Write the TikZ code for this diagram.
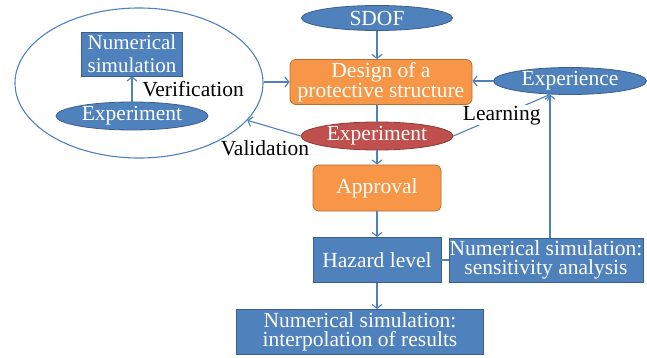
\documentclass[tikz,border=0pt]{standalone}
\usepackage{fontspec}
\setmainfont{Liberation Serif}
\usetikzlibrary{shapes.geometric,arrows.meta}
\definecolor{ofblue}{HTML}{4F81BD}
\definecolor{ofblueb}{HTML}{3A5F8B}
\definecolor{oforange}{HTML}{F79646}
\definecolor{oforangeb}{HTML}{B9702F}
\definecolor{ofred}{HTML}{C0504D}
\definecolor{ofredb}{HTML}{8C3A38}
\begin{document}
\begin{tikzpicture}[x=1pt,y=-1pt,
  every node/.style={font=\fontsize{21.5}{19.5}\selectfont, inner sep=0pt, align=center},
  bluebox/.style={rectangle, fill=ofblue, draw=ofblueb, line width=0.8pt, text=white},
  orangebox/.style={rectangle, rounded corners=6pt, fill=oforange, draw=oforangeb, line width=0.8pt, text=white},
  blueell/.style={ellipse, fill=ofblue, draw=ofblueb, line width=0.8pt, text=white},
  redell/.style={ellipse, fill=ofred, draw=ofredb, line width=0.8pt, text=white},
  conn/.style={draw=ofblue, line width=1.1pt},
  arr/.style={conn, -{Straight Barb[length=4pt,width=10pt]}},
  lbl/.style={text=black}]
\useasboundingbox (0,0) rectangle (647,358);
% big group ellipse
\node[ellipse, draw=ofblue, line width=1.1pt, minimum width=248pt, minimum height=150pt] (group) at (139,83) {};
\node[bluebox, minimum width=101pt, minimum height=44pt, font=\fontsize{21}{22.5}\selectfont] (numsim) at (132,54) {Numerical\\simulation};
\node[blueell, minimum width=152pt, minimum height=28pt] (exp1) at (132,116) {Experiment};
\node[lbl] (verif) at (193,89) {Verification};
% main column
\node[blueell, minimum width=151pt, minimum height=25pt] (sdof) at (377,18) {SDOF};
\node[orangebox, minimum width=182pt, minimum height=45pt] (design) at (381,82) {Design of a\\protective structure};
\node[blueell, minimum width=153pt, minimum height=27pt] (experience) at (570,81) {Experience};
\node[redell, minimum width=152pt, minimum height=28pt] (redexp) at (377,136) {Experiment};
\node[orangebox, minimum width=128pt, minimum height=46pt] (approval) at (377,188) {Approval};
\node[bluebox, minimum width=128pt, minimum height=45pt] (hazard) at (377,260) {Hazard level};
\node[bluebox, minimum width=194pt, minimum height=44pt] (sens) at (546,260) {Numerical simulation:\\sensitivity analysis};
\node[bluebox, minimum width=247pt, minimum height=45pt] (interp) at (360,332) {Numerical simulation:\\interpolation of results};
\node[lbl] (valid) at (265,148) {Validation};
\coordinate (expin) at (550,94.5);
% connectors
\draw[arr] (exp1.north) -- (numsim.south);
\draw[arr] (group.east |- design.west) -- (design.west);
\draw[arr] (sdof.south) -- (design.north -| sdof.south);
\draw[arr] (experience.west) -- (design.east |- experience.west);
\draw[conn] (design.south -| redexp.north) -- (redexp.north);
\draw[arr] (redexp.south) -- (approval.north);
\draw[arr] (redexp.west) -- (group.-19);
\draw[arr] (redexp.east) -- node[lbl, fill=white, inner sep=0.5pt] (learn) {Learning} (expin);
\draw[arr] (approval.south) -- (hazard.north);
\draw[conn] (hazard.east) -- (sens.west);
\draw[arr] (sens.north -| expin) -- (expin);
\draw[arr] (hazard.south) -- (hazard.south |- interp.north);
\end{tikzpicture}
\end{document}
